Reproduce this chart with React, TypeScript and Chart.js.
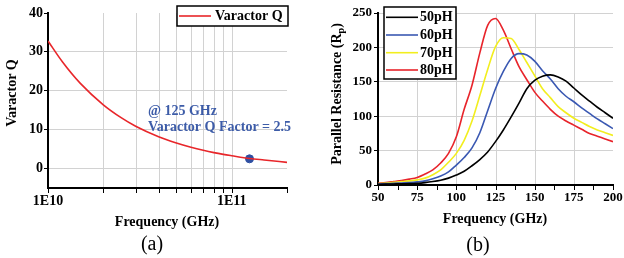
import React, { useEffect, useRef } from 'react';
import { Chart, registerables } from 'chart.js';

Chart.register(...registerables);

// ---------- Panel (a): Varactor Q ----------
const qFreqHz = [1e10, 1.2e10, 1.5e10, 2e10, 2.5e10, 3e10, 4e10, 5e10, 6e10, 7e10, 8e10, 9e10, 1e11, 1.25e11, 1.5e11, 2e11];
const qValues = [32.8, 27.4, 21.9, 16.4, 13.1, 10.9, 8.2, 6.6, 5.5, 4.7, 4.1, 3.65, 3.3, 2.6, 2.2, 1.6];
const markerFreqHz = [1.25e11];
const markerQ = [2.5];
const qTicks = [0, 10, 20, 30, 40];
const qFreqTicks = [1e10, 2e10, 3e10, 4e10, 5e10, 6e10, 7e10, 8e10, 9e10, 1e11, 2e11];
const qFreqTickLabels = ['1E10', '', '', '', '', '', '', '', '', '1E11', ''];
const qFreqGridLines = [2e10, 3e10, 4e10, 5e10, 6e10, 7e10, 8e10, 9e10, 1e11];
const qLegend = 'Varactor Q';
const annotationLines = ['@ 125 GHz', 'Varactor Q Factor = 2.5'];

// ---------- Panel (b): Parallel resistance ----------
const freqGHz = [50, 55, 60, 65, 70, 75, 80, 85, 90, 95, 100, 105, 110, 115, 120, 125, 130, 135, 140, 145, 150, 155, 160, 165, 170, 175, 180, 185, 190, 195, 200];
const rp50pH = [1, 1.2, 1.5, 1.8, 2, 2.5, 3.5, 5, 7, 10, 14.5, 20, 28, 37, 48, 63, 80, 99, 119, 140, 152, 158, 160, 157, 151, 141, 131, 122, 113, 105, 97];
const rp60pH = [1.5, 2, 2.5, 3, 3.5, 4.5, 6, 9, 13, 19, 29, 40, 54, 76, 108, 140, 165, 184, 191, 189, 180, 166, 154, 140, 129, 121, 112, 104, 96, 89, 82];
const rp70pH = [2, 2.8, 3.8, 5, 6, 7.5, 10, 15, 22, 33, 46, 65, 93, 130, 168, 201, 214, 213, 197, 178, 159, 140, 127, 114, 105, 97, 91, 85, 80, 76, 72];
const rp80pH = [2.5, 3.5, 5, 6.5, 8.5, 11, 16, 22, 32, 46, 70, 110, 145, 192, 232, 242, 225, 198, 172, 153, 135, 122, 110, 100, 93, 87, 81, 75, 71, 67, 63];
const seriesLabels = ['50pH', '60pH', '70pH', '80pH'];
const seriesColors = ['#000000', '#3a58b2', '#f2ee1e', '#e8242b'];
const rpTicks = [0, 25, 50, 75, 100, 125, 150, 175, 200, 225, 250];
const freqTicks = [50, 62.5, 75, 87.5, 100, 112.5, 125, 137.5, 150, 162.5, 175, 187.5, 200];
const freqGridLines = [75, 100, 125, 150, 175];

const FONT = '"Liberation Serif", "Times New Roman", serif';
const GRID = '#d2d2d2';
const NONE = 'rgba(0,0,0,0)';
const PANEL_B_LEFT = 310;

// vertical grid lines and x tick marks, placed through the chart's own x scale
function drawVGrid(ctx: CanvasRenderingContext2D, chart: any, offsetX: number, gridVals: number[], tickVals: number[]) {
  const xs = chart.scales.x;
  const { top, bottom } = chart.chartArea;
  ctx.fillStyle = GRID;
  gridVals.forEach((v) => {
    const px = Math.round(Number(xs.getPixelForValue(v))) + offsetX;
    ctx.fillRect(px, Math.round(top), 1, Math.round(bottom - top) - 1);
  });
  ctx.fillStyle = '#000';
  tickVals.forEach((v) => {
    const px = Math.round(Number(xs.getPixelForValue(v))) + offsetX;
    ctx.fillRect(px, Math.round(bottom), 1, 5);
  });
}

function makeVGridPlugin(id: string, gridVals: number[], tickVals: number[]) {
  return {
    id,
    beforeDatasetsDraw(chart: any) {
      const ctx = chart.ctx as CanvasRenderingContext2D;
      ctx.save();
      drawVGrid(ctx, chart, 0, gridVals, tickVals);
      ctx.restore();
    },
  };
}

const overlayA = {
  id: 'overlayA',
  afterDraw(chart: any) {
    const ctx = chart.ctx as CanvasRenderingContext2D;
    const xs = chart.scales.x;
    const ys = chart.scales.y;
    ctx.save();
    ctx.fillStyle = '#000';
    ctx.font = `bold 14px ${FONT}`;
    ctx.textAlign = 'center';
    ctx.textBaseline = 'middle';
    ctx.save();
    ctx.translate(12, 93);
    ctx.rotate(-Math.PI / 2);
    ctx.fillText('Varactor Q', 0, 0);
    ctx.restore();
    ctx.fillText('Frequency (GHz)', 167, 222);
    ctx.font = `20px ${FONT}`;
    ctx.fillText('(a)', 152, 245);
    ctx.font = `bold 14px ${FONT}`;
    ctx.fillStyle = '#3d5ca8';
    ctx.textAlign = 'left';
    const ax = xs.getPixelForValue(3.5e10);
    ctx.fillText(annotationLines[0], ax, ys.getPixelForValue(14.7));
    ctx.fillText(annotationLines[1], ax, ys.getPixelForValue(10.6));
    ctx.fillStyle = '#fff';
    ctx.fillRect(177, 6, 111, 20);
    ctx.strokeStyle = '#000';
    ctx.lineWidth = 1.5;
    ctx.strokeRect(177, 6, 111, 20);
    ctx.strokeStyle = '#e8262a';
    ctx.lineWidth = 1.6;
    ctx.beginPath();
    ctx.moveTo(179, 16);
    ctx.lineTo(211, 16);
    ctx.stroke();
    ctx.fillStyle = '#000';
    ctx.font = `bold 14px ${FONT}`;
    ctx.fillText(qLegend, 215, 16.5);
    ctx.restore();
  },
};

const overlayB = {
  id: 'overlayB',
  afterDraw(chart: any) {
    const ctx = chart.ctx as CanvasRenderingContext2D;
    ctx.save();
    ctx.fillStyle = '#000';
    ctx.textBaseline = 'middle';
    const main = 'Parallel Resistance (R';
    const sub = 'p';
    const close = ')';
    ctx.font = `bold 14px ${FONT}`;
    const w1 = ctx.measureText(main).width;
    const w3 = ctx.measureText(close).width;
    ctx.font = `bold 10px ${FONT}`;
    const w2 = ctx.measureText(sub).width;
    const total = w1 + w2 + w3;
    ctx.save();
    ctx.translate(27, 94);
    ctx.rotate(-Math.PI / 2);
    ctx.textAlign = 'left';
    ctx.font = `bold 14px ${FONT}`;
    ctx.fillText(main, -total / 2, 0);
    ctx.font = `bold 10px ${FONT}`;
    ctx.fillText(sub, -total / 2 + w1, 4);
    ctx.font = `bold 14px ${FONT}`;
    ctx.fillText(close, -total / 2 + w1 + w2, 0);
    ctx.restore();
    ctx.textAlign = 'center';
    ctx.font = `bold 14px ${FONT}`;
    ctx.fillText('Frequency (GHz)', 185, 219);
    ctx.font = `20px ${FONT}`;
    ctx.fillText('(b)', 168, 246);
    ctx.fillStyle = '#fff';
    ctx.fillRect(74, 7, 72, 72);
    ctx.strokeStyle = '#000';
    ctx.lineWidth = 1.5;
    ctx.strokeRect(74, 7, 72, 72);
    const rows = [17.3, 35, 52.7, 70];
    ctx.textAlign = 'left';
    ctx.font = `bold 14px ${FONT}`;
    seriesLabels.forEach((lab, i) => {
      ctx.strokeStyle = seriesColors[i];
      ctx.lineWidth = 1.6;
      ctx.beginPath();
      ctx.moveTo(76, rows[i]);
      ctx.lineTo(108, rows[i]);
      ctx.stroke();
      ctx.fillStyle = '#000';
      ctx.fillText(lab, 110, rows[i] + 0.5);
    });
    ctx.restore();
  },
};

export default function App() {
  const refA = useRef<HTMLCanvasElement>(null);
  const refB = useRef<HTMLCanvasElement>(null);
  const refU = useRef<HTMLCanvasElement>(null);

  useEffect(() => {
    document.body.style.margin = '0';
    const tickFontA = { family: FONT, weight: 'bold' as const, size: 14 };
    const tickFontB = { family: FONT, weight: 'bold' as const, size: 13 };

    const gridAy = qTicks.map((v, i) => (i === qTicks.length - 1 ? NONE : GRID));
    const gridBy = rpTicks.map((v, i) => (i === 0 ? NONE : GRID));

    const chartA = new Chart(refA.current as HTMLCanvasElement, {
      type: 'line',
      data: {
        datasets: [
          {
            label: qLegend,
            data: qFreqHz.map((x, i) => ({ x, y: qValues[i] })),
            borderColor: '#e8262a',
            borderWidth: 1.6,
            pointRadius: 0,
            cubicInterpolationMode: 'monotone',
            fill: false,
          },
          {
            label: 'marker',
            data: markerFreqHz.map((x, i) => ({ x, y: markerQ[i] })),
            showLine: false,
            pointRadius: 4,
            pointBackgroundColor: '#2f4fa2',
            pointBorderColor: '#2f4fa2',
            borderColor: '#2f4fa2',
          },
        ],
      },
      options: {
        responsive: false,
        animation: false,
        devicePixelRatio: 1,
        layout: { padding: { left: 0, top: 13, right: 23, bottom: 0 } },
        plugins: { legend: { display: false }, tooltip: { enabled: false } },
        scales: {
          x: {
            type: 'logarithmic',
            min: 1e10,
            max: 2e11,
            afterBuildTicks: (s: any) => { s.ticks = qFreqTicks.map((v) => ({ value: v })); },
            afterFit: (s: any) => { s.height = 70; },
            border: { color: '#000', width: 2 },
            grid: { color: NONE, tickColor: NONE, tickLength: 4, lineWidth: 1 },
            ticks: {
              autoSkip: false,
              maxRotation: 0,
              padding: 1,
              color: '#000',
              font: tickFontA,
              callback: (v: any, i: number) => qFreqTickLabels[i] ?? '',
            },
          },
          y: {
            type: 'linear',
            min: -5,
            max: 40,
            afterBuildTicks: (s: any) => { s.ticks = qTicks.map((v) => ({ value: v })); },
            afterFit: (s: any) => { s.width = 48; },
            border: { color: '#000', width: 2 },
            grid: { color: gridAy, tickColor: '#000', tickLength: 4, lineWidth: 1 },
            ticks: { padding: 1, color: '#000', font: tickFontA },
          },
        },
      },
      plugins: [makeVGridPlugin('vgridA', qFreqGridLines, qFreqTicks), overlayA],
    } as any);

    const seriesData = [rp50pH, rp60pH, rp70pH, rp80pH];
    const chartB = new Chart(refB.current as HTMLCanvasElement, {
      type: 'line',
      data: {
        datasets: seriesData.map((arr, i) => ({
          label: seriesLabels[i],
          data: freqGHz.map((x, j) => ({ x, y: arr[j] })),
          borderColor: seriesColors[i],
          borderWidth: 1.6,
          pointRadius: 0,
          cubicInterpolationMode: 'monotone',
          fill: false,
        })),
      },
      options: {
        responsive: false,
        animation: false,
        devicePixelRatio: 1,
        layout: { padding: { left: 0, top: 13, right: 11, bottom: 0 } },
        plugins: { legend: { display: false }, tooltip: { enabled: false } },
        scales: {
          x: {
            type: 'linear',
            min: 50,
            max: 200,
            afterBuildTicks: (s: any) => { s.ticks = freqTicks.map((v) => ({ value: v })); },
            afterFit: (s: any) => { s.height = 73; },
            border: { color: '#000', width: 2 },
            grid: { color: NONE, tickColor: NONE, tickLength: 4, lineWidth: 1 },
            ticks: {
              autoSkip: false,
              maxRotation: 0,
              padding: 1,
              color: '#000',
              font: tickFontB,
              callback: (v: any) => (Number(v) % 25 === 0 ? String(v) : ''),
            },
          },
          y: {
            type: 'linear',
            min: 0,
            max: 250,
            afterBuildTicks: (s: any) => { s.ticks = rpTicks.map((v) => ({ value: v })); },
            afterFit: (s: any) => { s.width = 68; },
            border: { color: '#000', width: 2 },
            grid: { color: gridBy, tickColor: '#000', tickLength: 4, lineWidth: 1 },
            ticks: { padding: 2, color: '#000', font: tickFontB },
          },
        },
      },
      plugins: [makeVGridPlugin('vgridB', freqGridLines, freqTicks), overlayB],
    } as any);

    // underlay canvas: same vertical grid, drawn from the charts' scales
    const u = refU.current as HTMLCanvasElement;
    const uctx = u.getContext('2d');
    if (uctx) {
      uctx.clearRect(0, 0, u.width, u.height);
      drawVGrid(uctx, chartA, 0, qFreqGridLines, qFreqTicks);
      drawVGrid(uctx, chartB, PANEL_B_LEFT, freqGridLines, freqTicks);
    }

    return () => {
      chartA.destroy();
      chartB.destroy();
    };
  }, []);

  return (
    <div style={{ position: 'relative', width: 624, height: 258, background: '#fff' }}>
      <canvas ref={refU} width={624} height={240} style={{ position: 'absolute', left: 0, top: 0, width: 624, height: 240 }} />
      <canvas ref={refA} width={310} height={258} style={{ position: 'absolute', left: 0, top: 0, width: 310, height: 258 }} />
      <canvas ref={refB} width={314} height={258} style={{ position: 'absolute', left: PANEL_B_LEFT, top: 0, width: 314, height: 258 }} />
    </div>
  );
}
